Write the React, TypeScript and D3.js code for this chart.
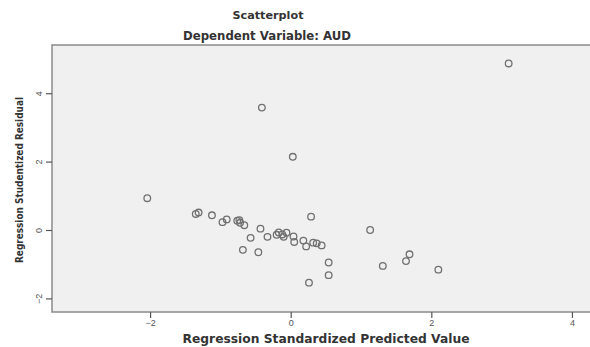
import React, { useEffect, useRef } from "react";
import * as d3 from "d3";

// values
const predicted = [
  -2.04, -1.35, -1.31, -1.12, -0.97, -0.91, -0.76, -0.73, -0.72, -0.66,
  -0.43, -0.57, -0.33, -0.68, -0.46, -0.17, -0.2, -0.12, -0.06, -0.1,
  0.04, 0.05, 0.18, 0.22, 0.32, 0.37, 0.44, 0.29, 0.54, 0.54,
  0.26, 1.13, 1.69, 1.64, 1.31, 2.1, 3.1, -0.41, 0.03,
];
const residual = [
  0.93, 0.47, 0.51, 0.43, 0.23, 0.31, 0.27, 0.29, 0.21, 0.14,
  0.04, -0.23, -0.2, -0.58, -0.65, -0.07, -0.14, -0.13, -0.08, -0.2,
  -0.19, -0.35, -0.31, -0.48, -0.37, -0.39, -0.45, 0.39, -0.95, -1.32,
  -1.54, 0.0, -0.71, -0.91, -1.05, -1.16, 4.87, 3.58, 2.14,
];
const xTicks = [-2, 0, 2, 4];
const yTicks = [-2, 0, 2, 4];

export default function App() {
  const svgRef = useRef<SVGSVGElement>(null);

  useEffect(() => {
    const w = 590;
    const h = 347;
    const left = 52;
    const top = 45;
    const bottom = 312;
    const font = "'DejaVu Sans', Verdana, sans-serif";
    const tickFont = "'Liberation Sans', Arial, sans-serif";

    const svg = d3.select(svgRef.current).attr("width", w).attr("height", h);
    svg.selectAll("*").remove();

    svg.append("rect").attr("width", w).attr("height", h).attr("fill", "#fff");

    const xScale = d3.scaleLinear().domain([-3.395, 4.257]).range([left, w]);
    const yScale = d3.scaleLinear().domain([-2.398, 5.41]).range([bottom, top]);

    // plot background
    svg
      .append("rect")
      .attr("x", left)
      .attr("y", top)
      .attr("width", w - left)
      .attr("height", bottom - top)
      .attr("fill", "#f0f0f0");

    // frame lines
    svg
      .append("path")
      .attr("d", `M${w},${top}H${left}V${bottom}H${w}`)
      .attr("fill", "none")
      .attr("stroke", "#8a8a8a")
      .attr("stroke-width", 1.5);

    const xAxis = svg.append("g").attr("transform", `translate(0,${bottom})`);
    xAxis
      .call(d3.axisBottom(xScale).tickValues(xTicks).tickSize(6).tickFormat(d3.format("d")))
      .select(".domain")
      .remove();
    xAxis.selectAll("line").attr("stroke", "#555").attr("stroke-width", 1.2);
    xAxis
      .selectAll("text")
      .attr("fill", "#555")
      .attr("font-family", tickFont)
      .attr("font-size", 9)
      .attr("dy", "0.6em");

    const yAxis = svg.append("g").attr("transform", `translate(${left},0)`);
    yAxis
      .call(d3.axisLeft(yScale).tickValues(yTicks).tickSize(6).tickFormat(d3.format("d")))
      .select(".domain")
      .remove();
    yAxis.selectAll("line").attr("stroke", "#555").attr("stroke-width", 1.2);
    yAxis
      .selectAll("text")
      .attr("fill", "#555")
      .attr("font-family", tickFont)
      .attr("font-size", 9)
      .attr("x", 0)
      .attr("dy", 0)
      .attr("text-anchor", "middle")
      .attr("transform", "translate(-10,0) rotate(-90)");

    // points
    svg
      .append("g")
      .selectAll("circle")
      .data(predicted.map((p, i) => [p, residual[i]]))
      .join("circle")
      .attr("cx", (d) => xScale(d[0]))
      .attr("cy", (d) => yScale(d[1]))
      .attr("r", 3.3)
      .attr("fill", "none")
      .attr("stroke", "#707070")
      .attr("stroke-width", 1.3);

    // titles
    const label = (x: number, y: number, size: number, len: number, txt: string, rot = 0) =>
      svg
        .append("text")
        .attr("transform", `translate(${x},${y}) rotate(${rot})`)
        .attr("text-anchor", "middle")
        .attr("font-family", font)
        .attr("font-weight", "bold")
        .attr("font-size", size)
        .attr("fill", "#333")
        .attr("textLength", len)
        .attr("lengthAdjust", "spacingAndGlyphs")
        .text(txt);

    label(268, 19, 11, 71, "Scatterplot");
    label(267, 40, 11.5, 168, "Dependent Variable: AUD");
    label(326, 343, 11.5, 287, "Regression Standardized Predicted Value");
    label(23, 180, 11, 166, "Regression Studentized Residual", -90);
  }, []);

  return (
    <div style={{ position: "absolute", left: 0, top: 0 }}>
      <svg ref={svgRef} style={{ display: "block" }}></svg>
    </div>
  );
}
